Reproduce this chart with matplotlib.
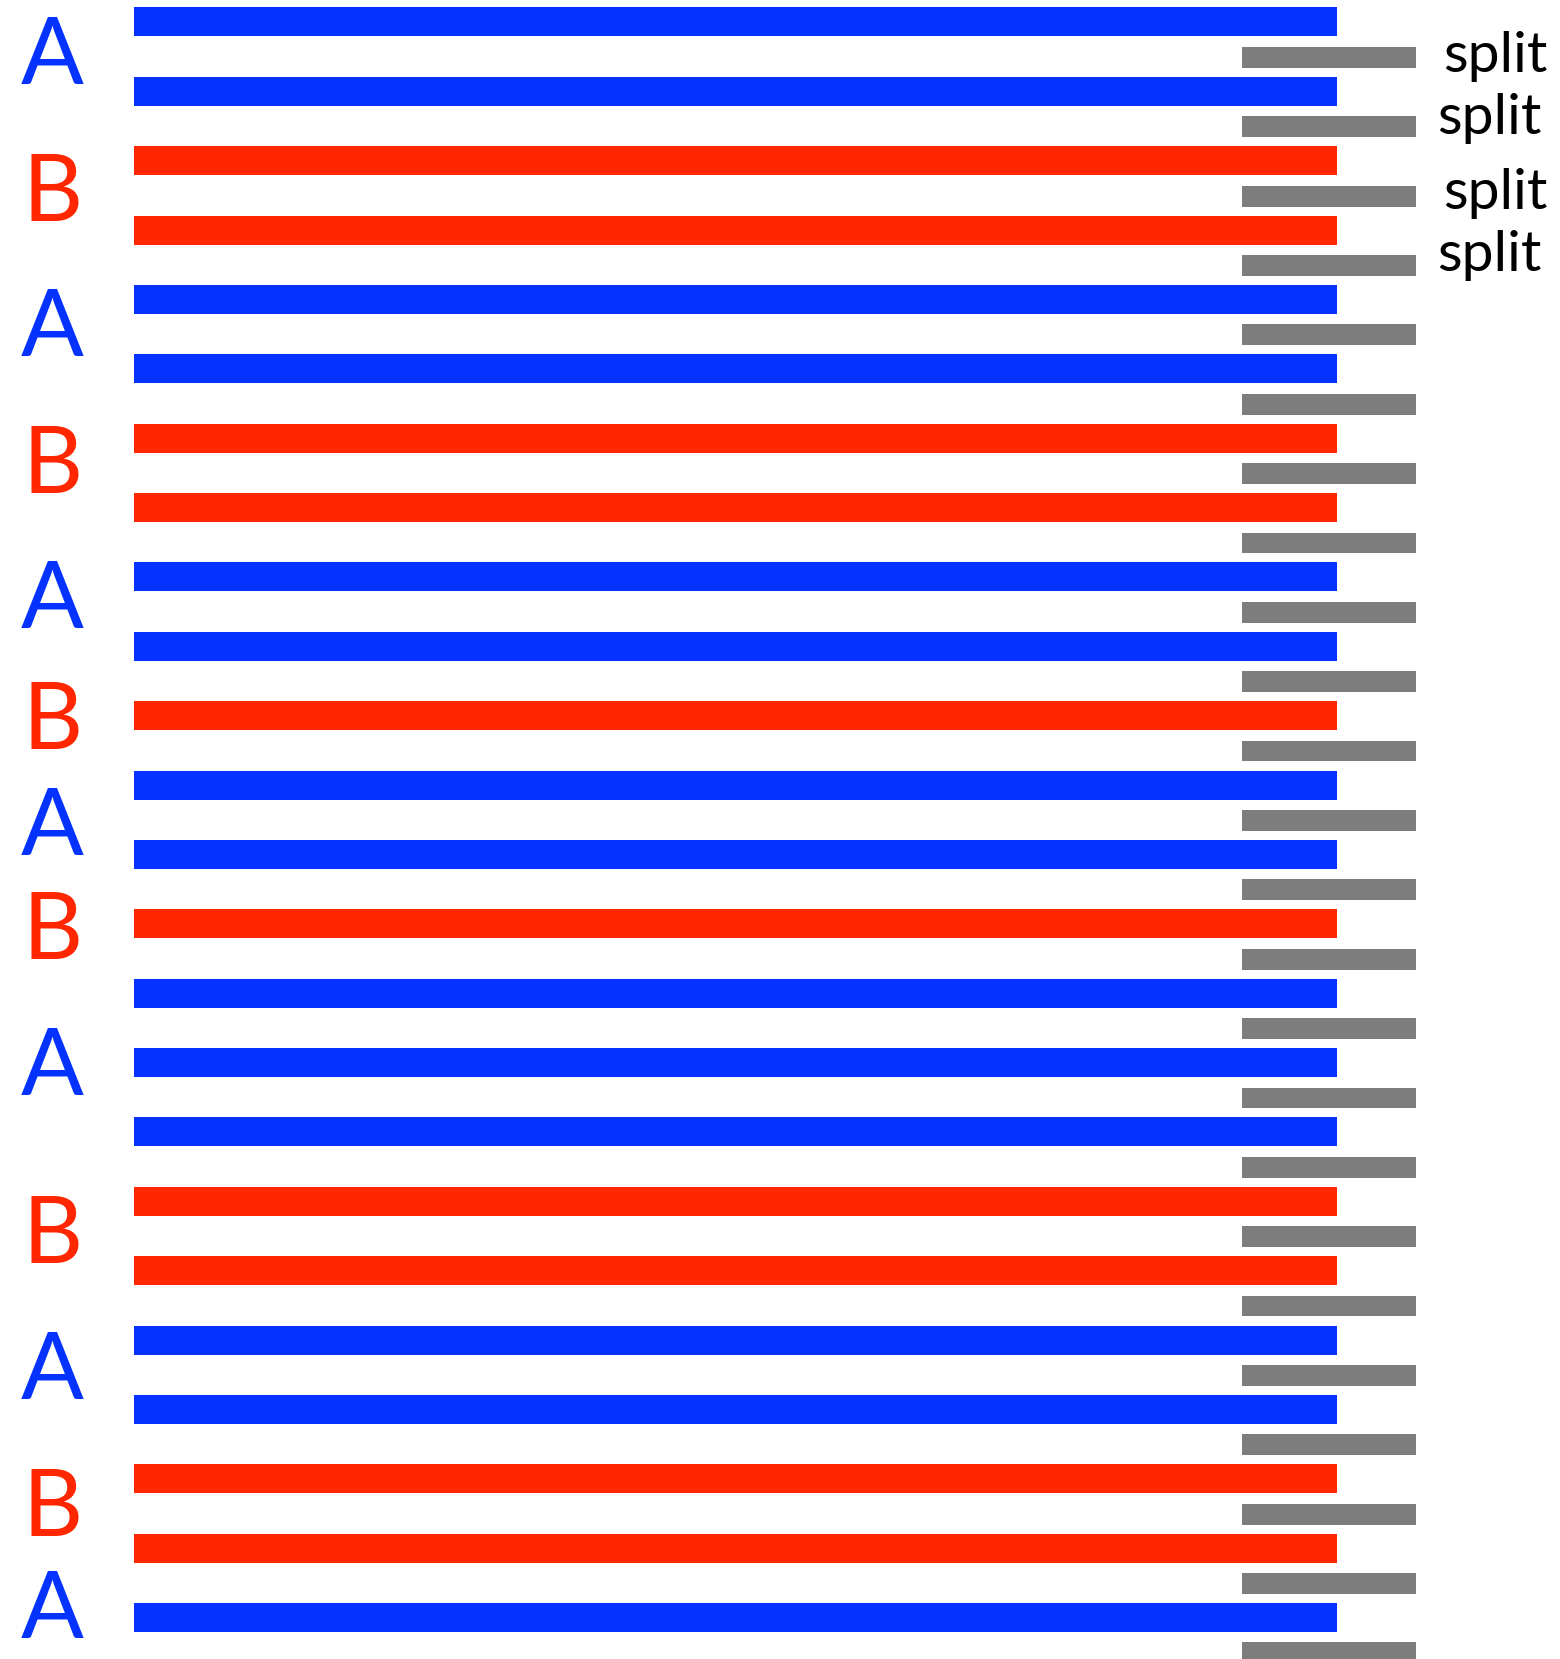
import matplotlib.pyplot as plt

# one row per coloured bar, top to bottom
row_groups = ['A', 'A', 'B', 'B', 'A', 'A', 'B', 'B', 'A', 'A', 'B', 'A',
              'A', 'B', 'A', 'A', 'A', 'B', 'B', 'A', 'A', 'B', 'B', 'A']
bar_start = 0
bar_end = 100
split_start = 92.1
split_end = 106.6

# group labels on the left (text, baseline row)
label_text = ['A', 'B', 'A', 'B', 'A', 'B', 'A', 'B', 'A', 'B', 'A', 'B', 'A']
label_row = [0.89, 2.87, 4.81, 6.79, 8.73, 10.48, 12.01, 13.51, 15.47,
             17.89, 19.85, 21.82, 23.30]

# "split" notes at the top right (x, baseline row)
split_x = [108.8, 108.3, 108.8, 108.3]
split_row = [0.72, 1.615, 2.69, 3.59]

colors = {'A': '#0433FF', 'B': '#FF2600'}
grey = '#7D7D7D'

fig = plt.figure(figsize=(15.6, 16.59), dpi=100)
ax = fig.add_axes([0, 0, 1, 1])

rows = list(range(len(row_groups)))
ax.barh(rows, bar_end - bar_start, left=bar_start, height=0.418,
        color=[colors[g] for g in row_groups])
ax.barh([r + 0.51 for r in rows], split_end - split_start, left=split_start,
        height=0.30, color=grey)

for t, r in zip(label_text, label_row):
    ax.text(-6.8, r, t, color=colors[t], fontsize=67, family='Lato',
            ha='center', va='baseline')

for x, r in zip(split_x, split_row):
    ax.text(x, r, 'split', color='black', fontsize=41, family='Lato',
            ha='left', va='baseline')

ax.set_xlim(-11.14, 118.54)
ax.set_ylim(23.598, -0.317)
ax.axis('off')

fig.savefig('out.png', dpi=100, facecolor='white')
